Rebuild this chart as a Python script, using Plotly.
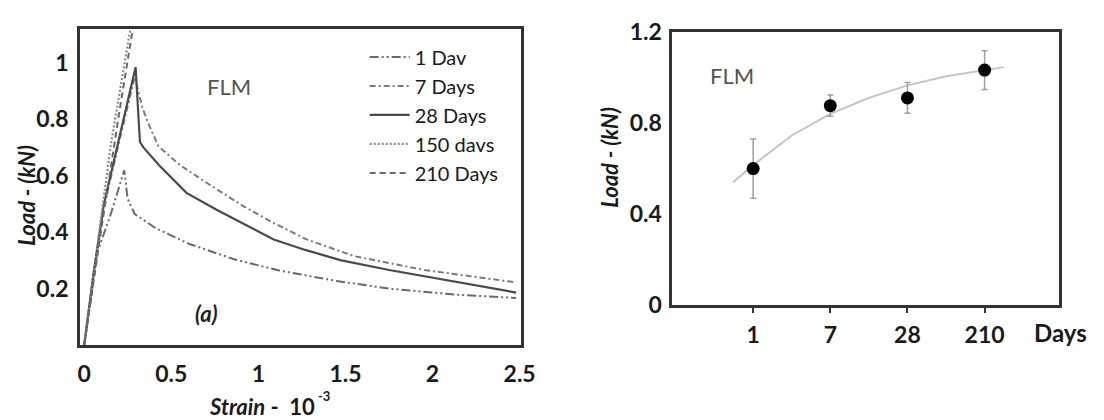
import plotly.graph_objects as go

# ---------------- data (left panel: load-strain curves) ----------------
strain_1d = [0, 0.07, 0.15, 0.23, 0.249, 0.29, 0.41, 0.6, 0.86, 1.12, 1.45, 1.75, 2.15, 2.48]
load_1d = [0, 0.32, 0.46, 0.62, 0.52, 0.465, 0.415, 0.36, 0.305, 0.265, 0.228, 0.201, 0.179, 0.168]

strain_7d = [0, 0.11, 0.2, 0.29, 0.335, 0.365, 0.426, 0.546, 0.707, 0.908, 1.068, 1.269, 1.55, 1.952, 2.48]
load_7d = [0, 0.48, 0.72, 0.95, 0.84, 0.79, 0.705, 0.64, 0.574, 0.495, 0.44, 0.377, 0.316, 0.267, 0.223]

strain_28d = [0, 0.05, 0.113, 0.2, 0.25, 0.295, 0.32, 0.341, 0.43, 0.587, 0.76, 0.948, 1.088,
              1.269, 1.47, 1.751, 2.052, 2.313, 2.48]
load_28d = [0, 0.24, 0.5, 0.73, 0.87, 0.985, 0.72, 0.70, 0.638, 0.54, 0.48, 0.42, 0.375,
            0.338, 0.302, 0.267, 0.234, 0.203, 0.187]

strain_150d = [0, 0.06, 0.15, 0.265, 0.285]
load_150d = [0, 0.28, 0.70, 1.12, 1.2]

strain_210d = [0, 0.1, 0.2, 0.3]
load_210d = [0, 0.42, 0.82, 1.2]

series_names = ["1 Dav", "7 Days", "28 Days", "150 davs", "210 Days"]

strain_ticks = [0, 0.5, 1, 1.5, 2, 2.5]
load_ticks_left = [0.2, 0.4, 0.6, 0.8, 1]

# ---------------- data (right panel: load vs age) ----------------
age_labels = ["1", "7", "28", "210"]
age_pos = [0, 1, 2, 3]
mean_load = [0.60, 0.876, 0.91, 1.032]
load_err = [0.13, 0.047, 0.067, 0.085]

trend_pos = [-0.26, 0, 0.5, 1.0, 1.5, 2.0, 2.5, 3.0, 3.25]
trend_load = [0.54, 0.615, 0.745, 0.84, 0.91, 0.965, 1.005, 1.03, 1.045]

load_ticks_right = [0, 0.4, 0.8, 1.2]

# ---------------- figure ----------------
W, H = 1104, 420
FONT = "Lato"


def px_x(p):
    return p / W


def px_y(p):
    return 1 - p / H


def fmt(v):
    return "<b>%g</b>" % v


fig = go.Figure()

styles = [
    dict(color="#6a6a6a", width=2, dash="9px,3px,2px,3px,2px,3px"),
    dict(color="#7a7a7a", width=2, dash="6px,3px,2px,3px"),
    dict(color="#4a4a4a", width=2.2, dash="solid"),
    dict(color="#8a8a8a", width=2.2, dash="2px,2px"),
    dict(color="#6a6a6a", width=2, dash="6px,4px"),
]
xs = [strain_1d, strain_7d, strain_28d, strain_150d, strain_210d]
ys = [load_1d, load_7d, load_28d, load_150d, load_210d]
for name, x, y, st in zip(series_names, xs, ys, styles):
    fig.add_trace(go.Scatter(x=x, y=y, mode="lines", name=name, line=st,
                             xaxis="x", yaxis="y"))

# right panel
fig.add_trace(go.Scatter(x=trend_pos, y=trend_load, mode="lines", showlegend=False,
                         line=dict(color="#c4c4c4", width=2), xaxis="x2", yaxis="y2"))
fig.add_trace(go.Scatter(x=age_pos, y=mean_load, mode="markers", showlegend=False,
                         marker=dict(color="black", size=13),
                         error_y=dict(type="data", array=load_err, color="#a0a0a0",
                                      thickness=1.5, width=3),
                         xaxis="x2", yaxis="y2"))

tickfont = dict(family=FONT, size=23, color="#1a1a1a")

fig.update_layout(
    width=W, height=H,
    margin=dict(l=0, r=0, t=0, b=0),
    paper_bgcolor="white", plot_bgcolor="white",
    font=dict(family=FONT, color="#1a1a1a"),
    xaxis=dict(domain=[px_x(79), px_x(527)], range=[-0.025, 2.51],
               tickvals=strain_ticks, ticktext=[fmt(v) for v in strain_ticks],
               tickfont=tickfont, ticks="", ticklabelstandoff=6,
               showgrid=False, zeroline=False, showline=True, mirror=True,
               linecolor="#333", linewidth=2.5),
    yaxis=dict(domain=[px_y(354), px_y(15)], range=[0, 1.12],
               tickvals=load_ticks_left, ticktext=[fmt(v) for v in load_ticks_left],
               tickfont=tickfont, ticks="", ticklabelstandoff=4,
               showgrid=False, zeroline=False, showline=True, mirror=True,
               linecolor="#333", linewidth=2.5),
    xaxis2=dict(domain=[px_x(680), px_x(1073)], range=[-1.05, 3.97], anchor="y2",
                tickvals=age_pos, ticktext=["<b>%s</b>" % s for s in age_labels],
                tickfont=tickfont, ticks="outside", ticklen=5, tickwidth=2, tickcolor="#333",
                ticklabelstandoff=2,
                showgrid=False, zeroline=False, showline=True, mirror=True,
                linecolor="#333", linewidth=2.5),
    yaxis2=dict(domain=[px_y(311), px_y(18)], range=[0, 1.2], anchor="x2",
                tickvals=load_ticks_right, ticktext=[fmt(v) for v in load_ticks_right],
                tickfont=tickfont, ticks="", ticklabelstandoff=3,
                showgrid=False, zeroline=False, showline=True, mirror=True,
                linecolor="#333", linewidth=2.5),
    legend=dict(x=px_x(368), y=px_y(24), xanchor="left", yanchor="top",
                bgcolor="rgba(0,0,0,0)", borderwidth=0,
                font=dict(family=FONT, size=20, color="#1a1a1a"),
                tracegroupgap=0, itemwidth=40),
    showlegend=True,
)

annots = [
    dict(text="FLM", x=0.83, y=0.916, xref="x", yref="y", showarrow=False,
         xanchor="center", yanchor="middle",
         font=dict(family=FONT, size=22, color="#555")),
    dict(text="<b><i>(a)</i></b>", x=0.70, y=0.112, xref="x", yref="y", showarrow=False,
         xanchor="center", yanchor="middle",
         font=dict(family=FONT, size=22, color="#222")),
    dict(text="<b><i>Strain</i> -  10</b>", x=px_x(320), y=px_y(419),
         xref="paper", yref="paper", showarrow=False, xanchor="right", yanchor="middle",
         font=dict(family=FONT, size=22, color="#1a1a1a")),
    dict(text="<b>-3</b>", x=px_x(319), y=px_y(408),
         xref="paper", yref="paper", showarrow=False, xanchor="left", yanchor="middle",
         font=dict(family=FONT, size=13, color="#1a1a1a")),
    dict(text="<b><i>Load - (kN)</i></b>", x=px_x(24), y=px_y(193), xref="paper", yref="paper",
         xanchor="center", yanchor="middle",
         showarrow=False, textangle=-90, font=dict(family=FONT, size=22, color="#1a1a1a")),
    dict(text="FLM", x=-0.28, y=1.008, xref="x2", yref="y2", showarrow=False,
         xanchor="center", yanchor="middle",
         font=dict(family=FONT, size=22, color="#555")),
    dict(text="<b><i>Load - (kN)</i></b>", x=px_x(617), y=px_y(153), xref="paper", yref="paper",
         xanchor="center", yanchor="middle",
         showarrow=False, textangle=-90, font=dict(family=FONT, size=22, color="#1a1a1a")),
    dict(text="<b>Days</b>", x=px_x(1045), y=px_y(340), xref="paper", yref="paper",
         xanchor="left", yanchor="middle", showarrow=False,
         font=dict(family=FONT, size=24, color="#1a1a1a")),
]
fig.update_layout(annotations=annots)

fig.write_html("out.html")
